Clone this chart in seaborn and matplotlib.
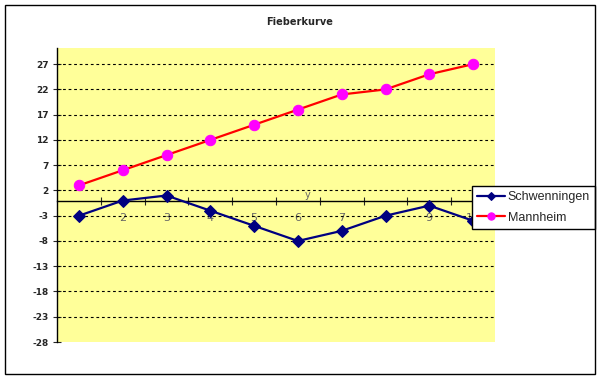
import numpy as np
import pandas as pd
import matplotlib
matplotlib.use("Agg")
import matplotlib.pyplot as plt
import seaborn as sns
from matplotlib.patches import Rectangle
from matplotlib.ticker import FixedLocator

# data
tage = [1, 2, 3, 4, 5, 6, 7, 8, 9, 10]
schwenningen = [-3, 0, 1, -2, -5, -8, -6, -3, -1, -4]
mannheim = [3, 6, 9, 12, 15, 18, 21, 22, 25, 27]
y_ticks = [-28, -23, -18, -13, -8, -3, 2, 7, 12, 17, 22, 27]

df = pd.DataFrame({"Tag": tage, "Schwenningen": schwenningen, "Mannheim": mannheim})

sns.set_style("white")
plt.rcParams["font.family"] = ["DejaVu Sans"]

fig = plt.figure(figsize=(6.01, 3.79), dpi=100)
ax = fig.add_axes([57 / 601, 1 - 342 / 379, 438 / 601, 294 / 379])
ax.set_facecolor("#FFFF99")

# outer chart border
fig.patches.append(Rectangle((5 / 601, 5 / 379), 590 / 601, 369 / 379,
                             transform=fig.transFigure, fill=False,
                             edgecolor="black", linewidth=1.0, zorder=0))

# gridlines
for v in y_ticks[1:]:
    ax.axhline(v, color="black", linestyle=(0, (2.5, 2.5)), linewidth=0.8, zorder=1)

sns.lineplot(data=df, x="Tag", y="Schwenningen", ax=ax, color="#000080",
             marker="D", markersize=6.5, markeredgecolor="#000080",
             markerfacecolor="#000080", linewidth=1.6, label="Schwenningen", zorder=3)
sns.lineplot(data=df, x="Tag", y="Mannheim", ax=ax, color="#FF0000",
             marker="o", markersize=7.5, markeredgecolor="#FF00FF",
             markerfacecolor="#FF00FF", linewidth=1.6, label="Mannheim", zorder=3)

ax.set_xlim(0.5, 10.5)
ax.set_ylim(-28, 30.2)

# axes styling (Excel look: x axis crosses at 0)
for s in ["top", "right"]:
    ax.spines[s].set_visible(False)
ax.spines["bottom"].set_position(("data", 0))
ax.spines["left"].set_color("black")
ax.spines["bottom"].set_color("black")
ax.spines["left"].set_linewidth(1.0)
ax.spines["bottom"].set_linewidth(1.0)

ax.yaxis.set_major_locator(FixedLocator(y_ticks))
ax.set_yticklabels([str(v) for v in y_ticks], fontsize=6.5, fontweight="bold")
ax.tick_params(axis="y", direction="inout", length=6, width=0.8, pad=3, left=True)

ax.set_xticks(tage)
ax.set_xticklabels([str(t) for t in tage], fontsize=8, color="#666666")
ax.xaxis.set_minor_locator(FixedLocator([t + 0.5 for t in tage[:-1]]))
ax.tick_params(axis="x", which="major", length=0, pad=9, bottom=True)
ax.tick_params(axis="x", which="minor", direction="inout", length=6, width=0.8, bottom=True)

ax.set_xlabel("")
ax.set_ylabel("")
ax.text(6.15, 0.2, "y", fontsize=7, color="#666666", ha="left", va="bottom")

fig.text(300 / 601, 1 - 22 / 379, "Fieberkurve", ha="center", va="center",
         fontsize=7, fontweight="bold")

leg = ax.legend(loc="upper left", bbox_to_anchor=(472 / 601, 1 - 186 / 379),
                bbox_transform=fig.transFigure, borderaxespad=0, fancybox=False,
                frameon=True, edgecolor="black", handlelength=2.2,
                prop={"family": "Liberation Sans", "size": 9},
                markerscale=0.7, borderpad=0.4, labelspacing=0.7, handletextpad=0.25)
leg.get_frame().set_linewidth(1.0)
leg.get_frame().set_facecolor("white")
leg.get_frame().set_alpha(1.0)

fig.savefig("out.png", dpi=100)
